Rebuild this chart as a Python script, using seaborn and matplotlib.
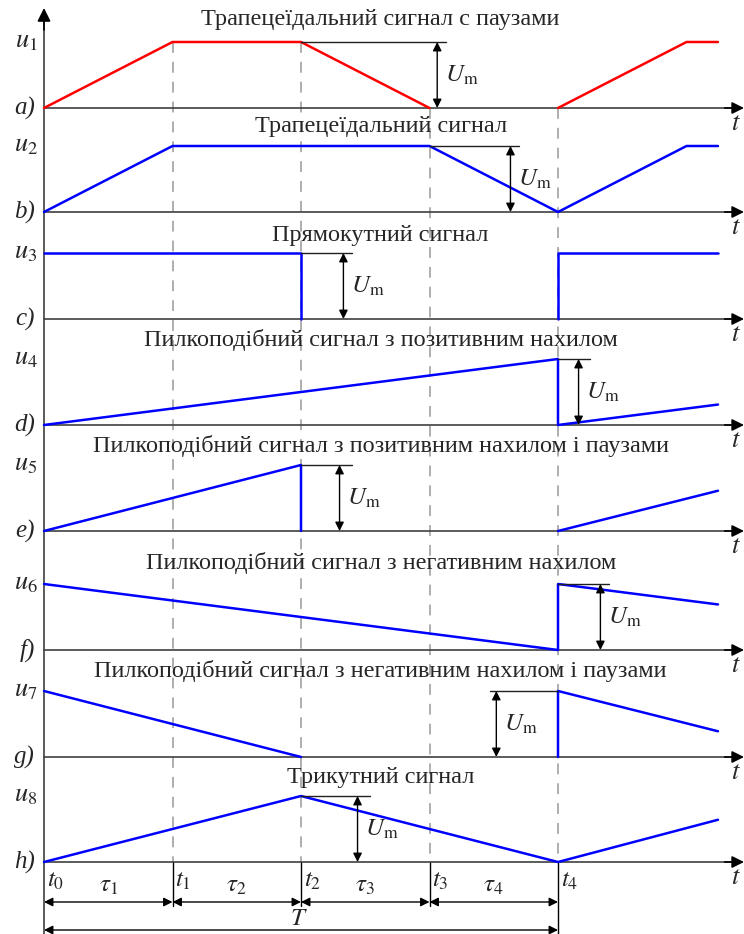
import numpy as np
import pandas as pd
import matplotlib.pyplot as plt
import seaborn as sns

sns.set_style("white")
plt.rcParams['font.family'] = ['Liberation Serif', 'DejaVu Serif']
plt.rcParams['mathtext.fontset'] = 'stix'

# Signal data: time in units of tau, amplitude in units of Um
T_END = 5.245
titles = ["Трапецеїдальний сигнал с паузами",
          "Трапецеїдальний сигнал",
          "Прямокутний сигнал",
          "Пилкоподібний сигнал з позитивним нахилом",
          "Пилкоподібний сигнал з позитивним нахилом і паузами",
          "Пилкоподібний сигнал з негативним нахилом",
          "Пилкоподібний сигнал з негативним нахилом і паузами",
          "Трикутний сигнал"]
tags = ["a)", "b)", "c)", "d)", "e)", "f)", "g)", "h)"]
u_names = ["$u_1$", "$u_2$", "$u_3$", "$u_4$", "$u_5$", "$u_6$", "$u_7$", "$u_8$"]

t_a = [0, 1, 2, 3, 4, 5, T_END]
u_a = [0, 1, 1, 0, 0, 1, 1]
s_a = [0, 0, 0, 0, 1, 1, 1]
t_b = [0, 1, 3, 4, 5, T_END]
u_b = [0, 1, 1, 0, 1, 1]
s_b = [0, 0, 0, 0, 0, 0]
t_c = [0, 2, 2, 4, 4, T_END]
u_c = [1, 1, 0, 0, 1, 1]
s_c = [0, 0, 0, 1, 1, 1]
t_d = [0, 4, 4, T_END]
u_d = [0, 1, 0, 0.31]
s_d = [0, 0, 0, 0]
t_e = [0, 2, 2, 4, T_END]
u_e = [0, 1, 0, 0, 0.61]
s_e = [0, 0, 0, 1, 1]
t_f = [0, 4, 4, T_END]
u_f = [1, 0, 1, 0.69]
s_f = [0, 0, 0, 0]
t_g = [0, 2, 4, 4, T_END]
u_g = [1, 0, 0, 1, 0.39]
s_g = [0, 0, 1, 1, 1]
t_h = [0, 2, 4, T_END]
u_h = [0, 1, 0, 0.64]
s_h = [0, 0, 0, 0]

signals = [(t_a, u_a, s_a), (t_b, u_b, s_b), (t_c, u_c, s_c), (t_d, u_d, s_d),
           (t_e, u_e, s_e), (t_f, u_f, s_f), (t_g, u_g, s_g), (t_h, u_h, s_h)]
colors = ["#ff0000"] + ["#0000ff"] * 7

# Um marker: arrow position and reference line span (tau units)
um_x = [3.06, 3.63, 2.33, 4.16, 2.30, 4.33, 3.52, 2.44]
um_ref = [(2.0, 3.13), (3.0, 3.70), (2.0, 2.40), (4.0, 4.25),
          (2.0, 2.40), (4.0, 4.40), (3.47, 4.0), (2.0, 2.54)]

t_ticks = [0, 1, 2, 3, 4]
t_names = ["$t_0$", "$t_1$", "$t_2$", "$t_3$", "$t_4$"]
tau_names = [r"$\tau_1$", r"$\tau_2$", r"$\tau_3$", r"$\tau_4$"]

# layout (pixels)
W, H = 744, 934
X0_PX, TAU_PX, UM_PX = 44, 128.5, 66
base_px = [108, 212, 319, 425, 531, 650, 757, 862]
title_px = [20, 127, 235, 340, 446, 563, 671, 778]
XLIM = (-X0_PX / TAU_PX, (W - X0_PX) / TAU_PX)

fig = plt.figure(figsize=(W / 100, H / 100), dpi=100)
bg = fig.add_axes([0, 0, 1, 1])
bg.set_xlim(XLIM)
bg.set_ylim(H, 0)
bg.axis("off")

axis_col = "#404040"
dash_col = "#a8a8a8"

# vertical axis with arrow
bg.plot([0, 0], [934, 20], color=axis_col, lw=1.2)
bg.annotate("", xy=(0, 8), xytext=(0, 30),
            arrowprops=dict(arrowstyle="-|>", color="black", lw=1.2,
                            mutation_scale=20, shrinkA=0, shrinkB=0))

# dashed time markers
dash_top = [42, 42, 108, 108]
for tk, top in zip(t_ticks[1:], dash_top):
    bg.plot([tk, tk], [top, base_px[-1]], color=dash_col, lw=1.3,
            dashes=(6, 5))
# solid extension lines below last axis
for tk in t_ticks[1:4]:
    bg.plot([tk, tk], [base_px[-1], 906], color="black", lw=1)
bg.plot([4, 4], [base_px[-1], 934], color="black", lw=1)

# time labels and dimension arrows
for tk, nm in zip(t_ticks, t_names):
    bg.text(tk + 0.02, 881, nm, fontsize=18, ha="left", va="center")
for i, nm in enumerate(tau_names):
    bg.text(i + 0.5, 886, nm, fontsize=18, ha="center", va="center")
    bg.annotate("", xy=(i + 1, 902), xytext=(i, 902),
                arrowprops=dict(arrowstyle="<|-|>", color="black", lw=1,
                                mutation_scale=13, shrinkA=0, shrinkB=0))
bg.text(1.98, 925, "$T$", fontsize=18, ha="center", va="baseline")
bg.annotate("", xy=(4, 930), xytext=(0, 930),
            arrowprops=dict(arrowstyle="<|-|>", color="black", lw=1,
                            mutation_scale=13, shrinkA=0, shrinkB=0))

for k in range(8):
    b = base_px[k]
    top_px, bot_px = b - 100, b + 25
    ax = fig.add_axes([0, 1 - bot_px / H, 1, (bot_px - top_px) / H])
    ax.patch.set_alpha(0)
    ax.set_xlim(XLIM)
    ax.set_ylim(-25 / UM_PX, 100 / UM_PX)
    ax.axis("off")

    # time axis
    ax.plot([0, XLIM[1] - 0.1], [0, 0], color=axis_col, lw=1.2)
    ax.annotate("", xy=(XLIM[1], 0), xytext=(XLIM[1] - 0.15, 0),
                arrowprops=dict(arrowstyle="-|>", color="black", lw=1.2,
                                mutation_scale=18, shrinkA=0, shrinkB=0))
    ax.text(XLIM[1] - 0.06, -16 / UM_PX, "$t$", fontsize=19,
            ha="center", va="center")

    t, u, s = signals[k]
    df = pd.DataFrame({"t": t, "u": u, "seg": s})
    sns.lineplot(data=df, x="t", y="u", units="seg", estimator=None,
                 sort=False, color=colors[k], lw=1.8, ax=ax, legend=False)

    # Um dimension
    x0r, x1r = um_ref[k]
    ax.plot([x0r, x1r], [1, 1], color="#202020", lw=1)
    ax.annotate("", xy=(um_x[k], 1), xytext=(um_x[k], 0),
                arrowprops=dict(arrowstyle="<|-|>", color="black", lw=1,
                                mutation_scale=13, shrinkA=0, shrinkB=0))
    ax.text(um_x[k] + 0.06, 0.5, r"$U_\mathrm{m}$", fontsize=18,
            ha="left", va="center")

    # labels
    ax.text(-0.05, 1, u_names[k], fontsize=19, ha="right", va="center")
    ax.text(-0.07, 0, tags[k], fontsize=18, ha="right", va="center",
            style="italic")
    ax.text(2.62, (b - title_px[k]) / UM_PX, titles[k], fontsize=17.5,
            ha="center", va="center")
    ax.set_xlabel("")
    ax.set_ylabel("")

fig.savefig("out.png", dpi=100)
